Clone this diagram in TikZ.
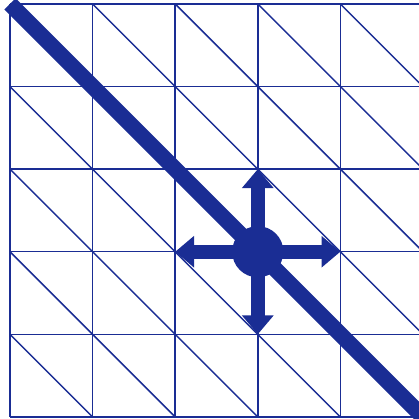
\documentclass[tikz,border=0pt]{standalone}
\usetikzlibrary{arrows.meta}
\definecolor{gridblue}{RGB}{26,45,148}
\tikzset{
    thin grid/.style={draw=gridblue, line width=0.5pt},
    main diag/.style={draw=gridblue, line width=5.5pt},
    dot/.style={circle, fill=gridblue, inner sep=0pt, minimum size=0.62cm},
    move/.style={draw=gridblue, line width=4.8pt, -{Triangle[width=10.5pt, length=6.5pt]}}
}
\begin{document}
\begin{tikzpicture}
\useasboundingbox (-0.121,-0.024) rectangle (4.952,5.048);
% grid with diagonals
\foreach \i in {0,...,5} {
    \draw[thin grid] (\i,0) -- (\i,5);
    \draw[thin grid] (0,\i) -- (5,\i);
}
\foreach \i in {0,...,4} {
    \foreach \j in {1,...,5} {
        \draw[thin grid] (\i,\j) -- ++(1,-1);
    }
}
% main diagonal
\coordinate (start) at (0,5);
\coordinate (end) at (5,0);
\draw[main diag] (start) -- (end);
% point and moves
\node[dot] (p) at (3,2) {};
\coordinate (left) at (2,2);
\coordinate (right) at (4,2);
\coordinate (up) at (3,3);
\coordinate (down) at (3,1);
\foreach \t in {left, right, up, down}
    \draw[move] (p.center) -- (\t);
\end{tikzpicture}
\end{document}
